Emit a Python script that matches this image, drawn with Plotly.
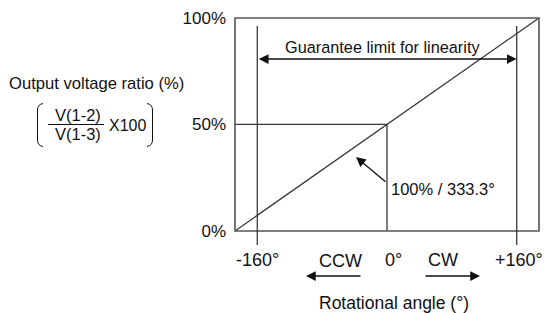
import plotly.graph_objects as go

# ---- data ----
ratio_angle = [-187.5, 187.5]      # drawn ends of the linear characteristic
ratio_pct = [0, 100]
ref_angle = [-187.5, 0, 0]          # 50% reference guide
ref_pct = [50, 50, 0]
limit_angles = [-160, 160]          # guarantee limit for linearity
limit_top_pct = 96.2
limit_bottom_pct = -6.6
x_tick_vals = [-160, 0, 160]
x_tick_text = ["-160°", "0°", "+160°"]
y_tick_vals = [0, 50, 100]
y_tick_text = ["0%", "50%", "100%"]
slope_tip = [-38.2]                 # angle where the slope arrow points

X_RANGE = [-187.5, 187.5]
Y_RANGE = [-6.6, 100]

W, H = 544, 313
L, R, T, B = 235, 5, 18, 68
PW, PH = W - L - R, H - T - B

def px(xp):
    return (xp - L) / PW

def py(yp):
    return (H - B - yp) / PH

def dy(v):
    return (v - Y_RANGE[0]) / (Y_RANGE[1] - Y_RANGE[0])

def dx(v):
    return (v - X_RANGE[0]) / (X_RANGE[1] - X_RANGE[0])

FONT = "Liberation Sans, Arial, sans-serif"
TXT = "#111111"
LINE = "#3a3a3a"

fig = go.Figure()
fig.add_trace(go.Scatter(x=ratio_angle, y=ratio_pct, mode="lines",
                         line=dict(color=LINE, width=1.3), hoverinfo="skip"))
fig.add_trace(go.Scatter(x=ref_angle, y=ref_pct, mode="lines",
                         line=dict(color=LINE, width=1.3), hoverinfo="skip"))

shapes = []
# frame
shapes.append(dict(type="rect", xref="paper", yref="paper",
                   x0=dx(X_RANGE[0]), x1=dx(X_RANGE[1]), y0=dy(0), y1=dy(100),
                   line=dict(color="#555555", width=1.6)))
# limit lines
for a in limit_angles:
    shapes.append(dict(type="line", xref="paper", yref="paper",
                       x0=dx(a), x1=dx(a), y0=dy(limit_bottom_pct), y1=dy(limit_top_pct),
                       line=dict(color=LINE, width=1.3)))
# fraction bar
shapes.append(dict(type="line", xref="paper", yref="paper",
                   x0=px(48), x1=px(104), y0=py(124.5), y1=py(124.5),
                   line=dict(color=TXT, width=1)))
# brackets
lb = "M {} {} Q {} {} {} {} L {} {} Q {} {} {} {}".format(
    px(43), py(103.5), px(37.5), py(104.5), px(37.5), py(110),
    px(37.5), py(140), px(37.5), py(145.5), px(43), py(146.5))
rb = "M {} {} Q {} {} {} {} L {} {} Q {} {} {} {}".format(
    px(147), py(103.5), px(152.5), py(104.5), px(152.5), py(110),
    px(152.5), py(140), px(152.5), py(145.5), px(147), py(146.5))
for p in (lb, rb):
    shapes.append(dict(type="path", xref="paper", yref="paper", path=p,
                       line=dict(color=TXT, width=1)))

ann = []
def text(t, x, y, size=16, xanchor="center", xref="paper", xshift=0):
    ann.append(dict(text=t, x=x, y=y, xref=xref, yref="paper", showarrow=False,
                    xanchor=xanchor, yanchor="middle", xshift=xshift,
                    font=dict(family=FONT, size=size, color=TXT)))

text("Output voltage ratio (%)", px(96), py(83), size=16.6)
text("V(1-2)", px(78), py(115), size=16.5)
text("V(1-3)", px(78), py(134), size=16.5)
text("X100", px(107), py(125), xanchor="left")
text("Guarantee limit for linearity", px(382.5), py(47), size=16.3)
text("100% / 333.3°", 0, py(189), xanchor="left", xref="x", xshift=2, size=16.5)

for v, t in zip(x_tick_vals, x_tick_text):
    text(t, v, py(260), size=18, xref="x", xshift=(6 if v == 0 else (2 if v > 0 else 0)))
text("CCW", px(340), py(261), size=18)
text("CW", px(443), py(260), size=18)
text("Rotational angle (°)", px(394), py(303), size=17.5)

AH = dict(arrowhead=2, arrowsize=1.5, arrowwidth=1.3, arrowcolor=TXT, standoff=0)
# double arrow
ann.append(dict(text="", x=limit_angles[1], y=py(59), xref="x", yref="paper",
                ax=limit_angles[0], ay=0, axref="x", ayref="pixel",
                showarrow=True, arrowside="end+start", startstandoff=0,
                startarrowhead=2, startarrowsize=1.5, **AH))
# slope arrow
ann.append(dict(text="", x=slope_tip[0], y=py(157), xref="x", yref="paper",
                ax=0, ay=26, axref="x", ayref="pixel", showarrow=True, **AH))
# CCW / CW arrows
ann.append(dict(text="", x=px(306), y=py(276), xref="paper", yref="paper",
                ax=56, ay=0, showarrow=True, **AH))
ann.append(dict(text="", x=px(480), y=py(276), xref="paper", yref="paper",
                ax=-56, ay=0, showarrow=True, **AH))

fig.update_layout(
    width=W, height=H, margin=dict(l=L, r=R, t=T, b=B, autoexpand=False),
    paper_bgcolor="white", plot_bgcolor="white", showlegend=False,
    shapes=shapes, annotations=ann,
    xaxis=dict(range=X_RANGE, showgrid=False, zeroline=False, showticklabels=False,
               ticks="", showline=False, fixedrange=True),
    yaxis=dict(range=Y_RANGE, showgrid=False, zeroline=False, ticks="",
               tickvals=y_tick_vals, ticktext=y_tick_text, ticklabelstandoff=8,
               tickfont=dict(family=FONT, size=17, color=TXT), showline=False,
               fixedrange=True),
)
fig.write_html("out.html", config=dict(displayModeBar=False),
               post_script="document.body.style.margin='0';document.body.style.padding='0';document.body.style.overflow='hidden';")
